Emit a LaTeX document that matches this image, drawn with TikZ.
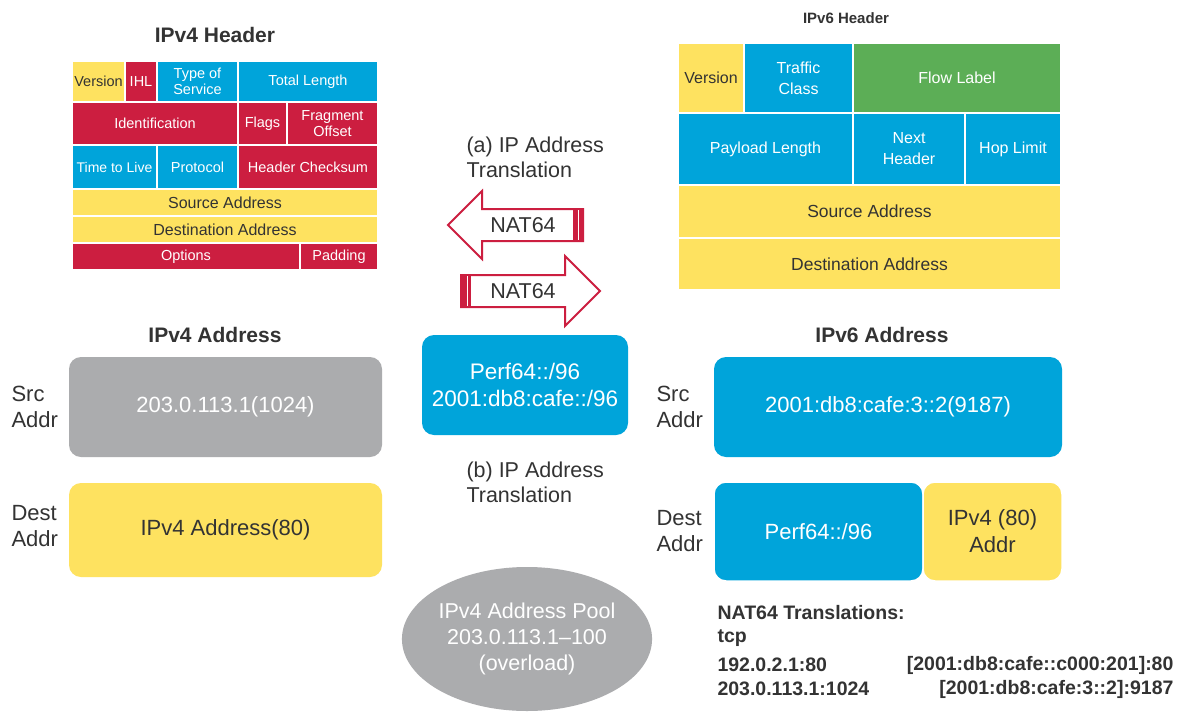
\documentclass[tikz,border=0pt]{standalone}
\usepackage{fontspec}
\setmainfont{Liberation Sans}
\usetikzlibrary{shapes.geometric}

\definecolor{hdryellow}{RGB}{254,226,96}
\definecolor{hdrred}{RGB}{204,30,64}
\definecolor{hdrblue}{RGB}{0,164,218}
\definecolor{hdrgreen}{RGB}{92,174,86}
\definecolor{poolgray}{RGB}{171,172,174}
\definecolor{textdark}{RGB}{51,51,51}

% header field: name, x1, y1, x2, y2, colour style, text
\newcommand{\field}[7]{\node[field,#6,minimum width={#4-#2},minimum height={#5-#3}] (#1) at ({(#2+#4)/2},{(#3+#5)/2}) {#7};}

\begin{document}
\begin{tikzpicture}[x=1pt,y=-1pt,
  field/.style={draw=white,line width=1.5pt,inner sep=0pt,align=center,font=\fontsize{14.5}{16.5}\selectfont},
  fyel/.style={fill=hdryellow,text=textdark},
  fred/.style={fill=hdrred,text=white},
  fblu/.style={fill=hdrblue,text=white},
  fgrn/.style={fill=hdrgreen,text=white},
  addrbox/.style={rounded corners=12pt,inner sep=0pt,align=center,font=\fontsize{22}{27}\selectfont},
  title/.style={font=\bfseries\fontsize{21}{25}\selectfont,text=textdark},
  lbl/.style={font=\fontsize{22}{26}\selectfont,align=left,anchor=west,text=textdark},
  natarrow/.style={draw=hdrred,line width=2pt,fill=white,line join=miter},
  trans/.style={font=\bfseries\fontsize{19.5}{24}\selectfont,text=textdark}]

\useasboundingbox[fill=white] (0,0) rectangle (1187,715);

% IPv4 header
\node[title] (v4head) at (215,35) {IPv4 Header};
\field{v4ver}{72}{61}{125}{102}{fyel}{Version}
\field{v4ihl}{125}{61}{157}{102}{fred}{IHL}
\field{v4tos}{157}{61}{238}{102}{fblu}{Type of\\Service}
\field{v4len}{238}{61}{378}{102}{fblu}{Total Length}
\field{v4id}{72}{102}{238}{145}{fred}{Identification}
\field{v4flags}{238}{102}{287}{145}{fred}{Flags}
\field{v4frag}{287}{102}{378}{145}{fred}{Fragment\\Offset}
\field{v4ttl}{72}{145}{157}{189}{fblu,font=\fontsize{14}{16}\selectfont}{Time to Live}
\field{v4proto}{157}{145}{238}{189}{fblu}{Protocol}
\field{v4csum}{238}{145}{378}{189}{fred}{Header Checksum}
\field{v4src}{72}{189}{378}{216}{fyel,font=\fontsize{16}{18}\selectfont}{Source Address}
\field{v4dst}{72}{216}{378}{243}{fyel,font=\fontsize{16}{18}\selectfont}{Destination Address}
\field{v4opt}{72}{243}{300}{270}{fred}{Options}
\field{v4pad}{300}{243}{378}{270}{fred}{Padding}

% IPv6 header
\node[title,font=\bfseries\fontsize{15}{18}\selectfont] (v6head) at (846,18) {IPv6 Header};
\begin{scope}[field/.append style={font=\fontsize{16}{21}\selectfont}]
\field{v6ver}{678}{43}{744}{113}{fyel}{Version}
\field{v6tc}{744}{43}{853}{113}{fblu}{Traffic\\Class}
\field{v6flow}{853}{43}{1061}{113}{fgrn}{Flow Label}
\field{v6plen}{678}{113}{853}{185}{fblu}{Payload Length}
\field{v6next}{853}{113}{965}{185}{fblu}{Next\\Header}
\field{v6hop}{965}{113}{1061}{185}{fblu}{Hop Limit}
\field{v6src}{678}{185}{1061}{238}{fyel,font=\fontsize{17.5}{21}\selectfont}{Source Address}
\field{v6dst}{678}{238}{1061}{290}{fyel,font=\fontsize{17.5}{21}\selectfont}{Destination Address}
\end{scope}

% translation arrows
\node[lbl,font=\fontsize{21.5}{25}\selectfont] (transa) at (463,157) {(a) IP Address\\Translation};
\draw[natarrow] (448,225) -- (482,191) -- (482,209) -- (583,209) -- (583,241) -- (482,241) -- (482,259) -- cycle;
\fill[hdrred] (573,209) rectangle (583,241);
\draw[white,line width=1.2pt] (578.5,210) -- (578.5,240);
\node[font=\fontsize{21.5}{24}\selectfont,text=textdark] (natleft) at (523,225) {NAT64};

\draw[natarrow] (600,291) -- (565,256) -- (565,275) -- (461,275) -- (461,307) -- (565,307) -- (565,326) -- cycle;
\fill[hdrred] (461,275) rectangle (471,307);
\draw[white,line width=1.2pt] (467.5,276) -- (467.5,306);
\node[font=\fontsize{21.5}{24}\selectfont,text=textdark] (natright) at (523,291) {NAT64};

% IPv4 address
\node[title] (v4addr) at (215,335) {IPv4 Address};
\node[lbl] (v4srclbl) at (8,407) {Src\\Addr};
\node[addrbox,fill=poolgray,text=white,minimum width=313,minimum height=100] (v4srcaddr) at (225.5,407) {203.0.113.1(1024)};
\node[lbl] (v4dstlbl) at (8,526) {Dest\\Addr};
\node[addrbox,fill=hdryellow,text=textdark,minimum width=313,minimum height=94] (v4dstaddr) at (225.5,530) {IPv4 Address(80)};

% prefix and pool
\node[addrbox,fill=hdrblue,text=white,minimum width=206,minimum height=100,font=\fontsize{22.5}{27}\selectfont] (prefix) at (525,385) {Perf64::/96\\2001:db8:cafe::/96};
\node[lbl,font=\fontsize{21.5}{25}\selectfont] (transb) at (463,482) {(b) IP Address\\Translation};
\node[ellipse,fill=poolgray,text=white,inner sep=0pt,minimum width=248,minimum height=144,align=center,
  font=\fontsize{21.5}{26}\selectfont] (pool) at (527,639) {IPv4 Address Pool\\203.0.113.1--100\\(overload)};

% IPv6 address
\node[title] (v6addr) at (882,335) {IPv6 Address};
\node[lbl] (v6srclbl) at (653,407) {Src\\Addr};
\node[addrbox,fill=hdrblue,text=white,minimum width=348,minimum height=100] (v6srcaddr) at (888,407) {2001:db8:cafe:3::2(9187)};
\node[lbl] (v6dstlbl) at (653,531) {Dest\\Addr};
\node[addrbox,fill=hdrblue,text=white,draw=white,line width=1.5pt,minimum width=209,minimum height=99] (v6prefix) at (818.5,531.5) {Perf64::/96};
\node[addrbox,fill=hdryellow,text=textdark,draw=white,line width=1.5pt,minimum width=139,minimum height=99] (v6embed) at (992.5,531.5) {IPv4 (80)\\Addr};

% translation table
\node[trans,anchor=west] (tabhead) at (714,613) {NAT64 Translations:};
\node[trans,anchor=west] (tabproto) at (714,638) {tcp};
\node[trans,anchor=west] (tab4a) at (714,665) {192.0.2.1:80};
\node[trans,anchor=east] (tab6a) at (1177,665) {[2001:db8:cafe::c000:201]:80};
\node[trans,anchor=west] (tab4b) at (714,689) {203.0.113.1:1024};
\node[trans,anchor=east] (tab6b) at (1177,689) {[2001:db8:cafe:3::2]:9187};
\end{tikzpicture}
\end{document}
